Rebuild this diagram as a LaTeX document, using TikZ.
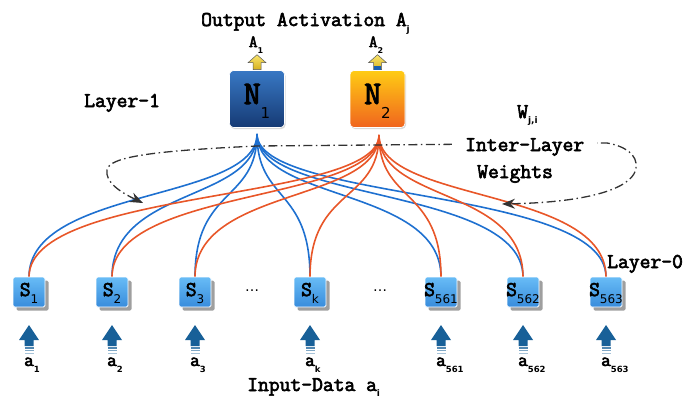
\documentclass[tikz,border=0pt]{standalone}
\usepackage{fontspec}
\newfontfamily\dvs{DejaVu Sans}
\newfontfamily\cour{Latin Modern Mono}[FakeBold=3]
\usetikzlibrary{shadows,arrows.meta}

\definecolor{wireblue}{RGB}{30,112,208}
\definecolor{wireorange}{RGB}{232,86,40}
\definecolor{nbluetop}{RGB}{56,120,196}
\definecolor{nbluebot}{RGB}{22,58,116}
\definecolor{norangetop}{RGB}{255,204,20}
\definecolor{norangebot}{RGB}{240,100,30}
\definecolor{sboxtop}{RGB}{104,188,246}
\definecolor{sboxbot}{RGB}{56,140,220}
\definecolor{inblue}{RGB}{24,96,152}
\definecolor{loopgray}{RGB}{50,50,50}
\definecolor{yeltop}{RGB}{250,230,110}
\definecolor{yelbot}{RGB}{214,176,30}

% lowered subscript in a sans face: depth, size, text
\newcommand\sbx[3]{\lower#1\hbox{\dvs\fontsize{#2}{#2}\selectfont #3}}
\newcommand\sbxb[3]{\lower#1\hbox{\dvs\bfseries\fontsize{#2}{#2}\selectfont #3}}

\tikzset{
  txt/.style={inner sep=0pt, anchor=base west, font=\cour\fontsize{21}{21}\selectfont},
  neuron/.style={minimum width=55pt, minimum height=57pt, inner sep=0pt,
    rounded corners=4pt, draw=white, line width=0.6pt, shading angle=45,
    drop shadow={shadow xshift=1pt, shadow yshift=-1.5pt, opacity=0.3}},
  sensor/.style={minimum width=32pt, minimum height=30pt, inner sep=0pt,
    rounded corners=1.5pt, draw=white, line width=0.8pt, shading angle=45,
    top color=sboxtop, bottom color=sboxbot,
    drop shadow={shadow xshift=3.5pt, shadow yshift=-3.5pt, fill=gray!75, opacity=1}},
  nlab/.style={inner sep=0pt, anchor=base, font=\cour\fontsize{33}{33}\selectfont},
  slab/.style={inner sep=0pt, anchor=base, font=\cour\fontsize{21}{21}\selectfont},
  alab/.style={inner sep=0pt, anchor=base, font=\cour\fontsize{19}{19}\selectfont},
  toplab/.style={inner sep=0pt, anchor=base, font=\cour\fontsize{17}{17}\selectfont},
  bluewire/.style={line width=1.6pt, draw=wireblue},
  orangewire/.style={line width=1.6pt, draw=wireorange},
  loopline/.style={line width=1.3pt, draw=loopgray,
    dash pattern=on 9pt off 3.5pt on 1.5pt off 3.5pt,
    {Stealth[length=13pt,width=10pt]}-{Stealth[length=13pt,width=10pt]}},
  outarrow/.pic={
    \draw[draw=gray!70!black, line width=0.5pt, top color=yeltop, bottom color=yelbot]
      (0,0) -- (9,8) -- (4,8) -- (4,15) -- (-4,15) -- (-4,8) -- (-9,8) -- cycle;
  },
  inarrow/.pic={
    \fill[inblue] (0,0) -- (10,15) -- (4.5,15) -- (4.5,21) -- (-4.5,21)
      -- (-4.5,15) -- (-10,15) -- cycle;
    \fill[inblue!75] (-4.5,22.3) rectangle (4.5,23.6);
    \fill[inblue!55] (-4.5,24.9) rectangle (4.5,26.2);
    \fill[inblue!38] (-4.5,27.5) rectangle (4.5,28.8);
  }
}

\begin{document}
\begin{tikzpicture}[x=1pt,y=-1pt]
\useasboundingbox (0,0) rectangle (689,397);

% input units, Layer-0
\foreach \nm/\xx in {s1/29,s2/112,s3/195,sk/310,s561/441,s562/523,s563/606}{
  \coordinate (\nm) at (\xx,292);
}
% fan-out points below the neurons
\coordinate (n1tip) at (257,134);
\coordinate (n2tip) at (379,135);

% inter-layer weights
\foreach \nm in {s1,s2,s3,sk,s561,s562,s563}{
  \draw[bluewire] (n1tip) .. controls +(0,68) and +(0,-90) .. ([yshift=15pt]\nm);
}
\foreach \nm in {s1,s2,s3,sk,s561,s562,s563}{
  \draw[orangewire] (n2tip) .. controls +(0,68) and +(0,-90) .. ([yshift=15pt]\nm);
}

% input unit boxes and labels
\foreach \nm/\sub in {s1/1,s2/2,s3/3,sk/k,s561/561,s562/562,s563/563}{
  \node[sensor] (\nm box) at (\nm) {};
  \node[slab] (\nm txt) at ([yshift=-4pt]\nm) {S\sbx{7pt}{12}{\sub}};
  \pic at ([yshift=-33pt]\nm) {inarrow};
  \node[alab] (\nm in) at ([yshift=-74pt]\nm) {a\rlap{\sbxb{6pt}{8.5}{\sub}}};
}
\node[inner sep=0pt, font=\dvs\fontsize{14}{14}\selectfont] (dots1) at (252,291) {…};
\node[inner sep=0pt, font=\dvs\fontsize{14}{14}\selectfont] (dots2) at (380,291) {…};

% Layer-1 neurons
\node[neuron, top color=nbluetop, bottom color=nbluebot] (n1) at (257,99) {};
\node[neuron, top color=norangetop, bottom color=norangebot] (n2) at (377.5,99) {};
\node[nlab] (n1txt) at (257,104) {N\sbx{14pt}{15}{1}};
\node[nlab] (n2txt) at (377.5,104) {N\sbx{14pt}{15}{2}};
\pic at ([yshift=15.5pt]n1.north) {outarrow};
\pic at ([yshift=15.5pt]n2.north) {outarrow};
\fill[wireblue!85!black] ([xshift=-3.6pt]n2.north) rectangle ([xshift=3.6pt,yshift=4.5pt]n2.north);
\node[toplab] (a1out) at (256,47) {A\sbxb{6pt}{8}{1}};
\node[toplab] (a2out) at (376,47) {A\sbxb{6pt}{8}{2}};

% weight loop
\draw[loopline] (143,203) .. controls (120,192) and (105,182) .. (107,170)
  .. controls (109,157) and (150,151) .. (257,146) -- (607,143)
  .. controls (625,146) and (638,155) .. (636,168)
  .. controls (634,185) and (600,202) .. (502,204);

% captions
\node[txt] (outcap) at (201,26) {Output Activation A\sbxb{6pt}{9}{j}};
\node[txt] (l1cap) at (84,107) {Layer-1};
\node[txt] (wcap) at (517,118) {W\sbxb{5pt}{9}{j,i}};
\node[txt, fill=white, inner xsep=13pt, inner ysep=2pt] (ilcap) at (452,151) {Inter-Layer};
\node[txt] (wtcap) at (477,178) {Weights};
\node[txt] (l0cap) at (607,268) {Layer-0};
\node[txt] (incap) at (247,391) {Input-Data a\sbxb{5pt}{9}{i}};
\end{tikzpicture}
\end{document}
